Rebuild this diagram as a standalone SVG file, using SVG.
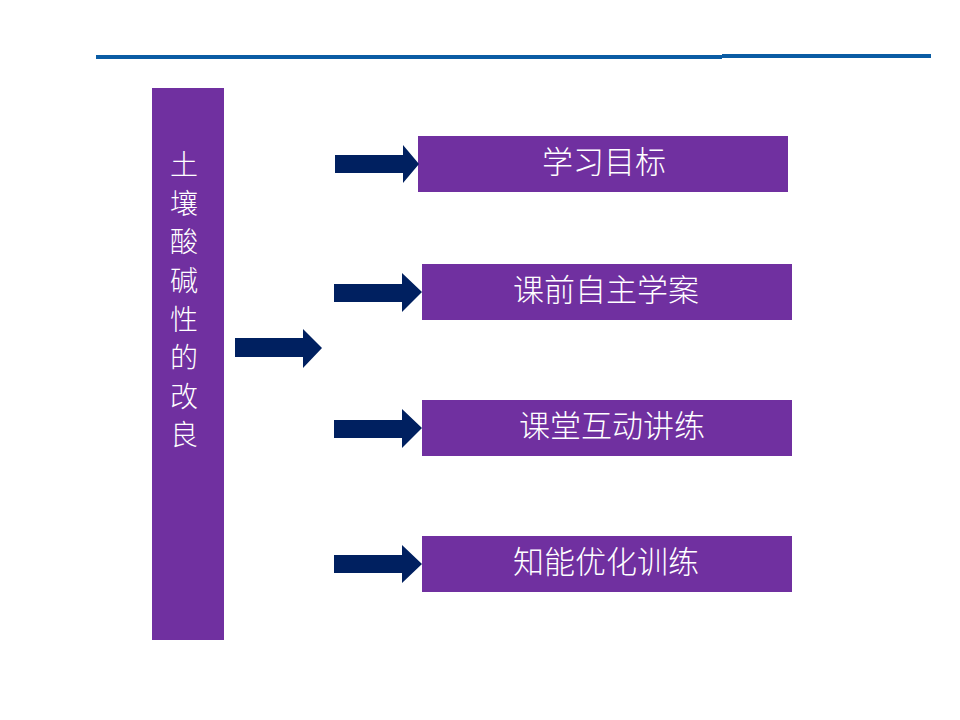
<svg xmlns="http://www.w3.org/2000/svg" width="960" height="720" viewBox="0 0 960 720">
<style>
.box{fill:#7030A0}
.arr{fill:#002060}
.t{fill:#FFFFFF;font-family:"Noto Sans CJK SC",sans-serif;font-weight:300;font-size:31px;text-anchor:middle}
.v{fill:#FFFFFF;font-family:"Noto Sans CJK SC",sans-serif;font-weight:300;font-size:28px;text-anchor:middle}
.ln{stroke:#0A5CA4;stroke-width:4;fill:none}
</style>
<rect width="960" height="720" fill="#FFFFFF"/>
<g id="topline">
<line class="ln" x1="96" y1="57" x2="722" y2="57"/>
<line class="ln" x1="722" y1="56" x2="931" y2="56"/>
</g>
<g id="main">
<rect class="box" x="152" y="88" width="72" height="552"/>
<text class="v" x="184" y="175">土</text>
<text class="v" x="184" y="214">壤</text>
<text class="v" x="184" y="252">酸</text>
<text class="v" x="184" y="291">碱</text>
<text class="v" x="184" y="330">性</text>
<text class="v" x="184" y="368">的</text>
<text class="v" x="184" y="407">改</text>
<text class="v" x="184" y="445">良</text>
</g>
<g id="n1"><rect class="box" x="418" y="136" width="370" height="56"/><text class="t" x="604" y="173">学习目标</text></g>
<g id="n2"><rect class="box" x="422" y="264" width="370" height="56"/><text class="t" x="606" y="301">课前自主学案</text></g>
<g id="n3"><rect class="box" x="422" y="400" width="370" height="56"/><text class="t" x="612" y="437">课堂互动讲练</text></g>
<g id="n4"><rect class="box" x="422" y="536" width="370" height="56"/><text class="t" x="606" y="573">知能优化训练</text></g>
<g id="connectors">
<polygon class="arr" points="235,338 303,338 303,329 322,348 303,368 303,357 235,357"/>
<polygon class="arr" points="335,155 403,155 403,145 419,164 403,183 403,173 335,173"/>
<polygon class="arr" points="334,284 402,284 402,273 422,292 402,312 402,302 334,302"/>
<polygon class="arr" points="334,420 402,420 402,409 422,428 402,448 402,438 334,438"/>
<polygon class="arr" points="334,555 402,555 402,545 422,564 402,583 402,573 334,573"/>
</g>
</svg>
